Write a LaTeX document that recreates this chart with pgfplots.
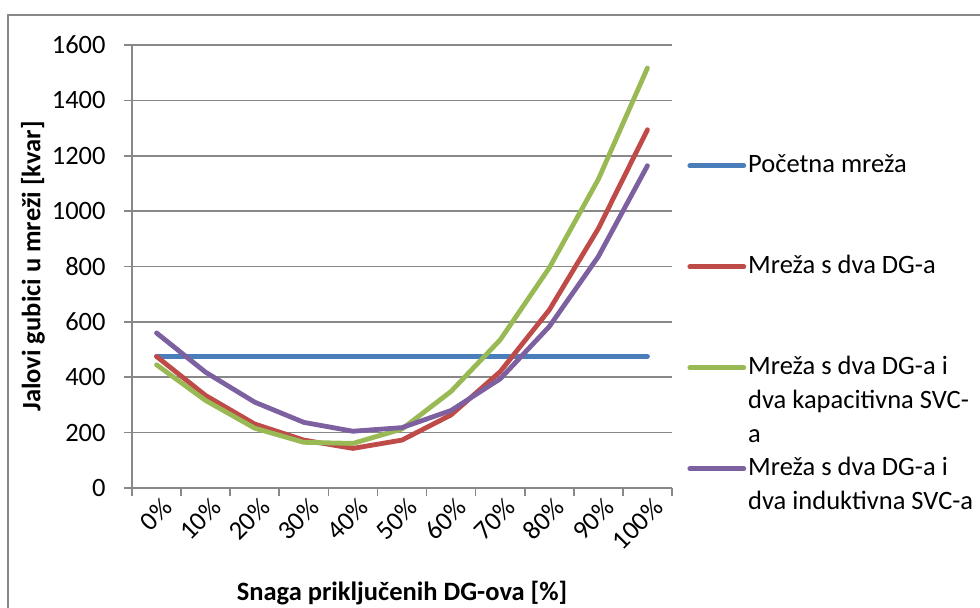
\documentclass[border=0pt]{standalone}
\usepackage{pgfplots}
\pgfplotsset{compat=1.18}
\usepackage{fontspec}
\setmainfont{Carlito}
\definecolor{cBlue}{HTML}{4A7EBB}
\definecolor{cRed}{HTML}{BE4B48}
\definecolor{cGreen}{HTML}{98B954}
\definecolor{cPurple}{HTML}{7D60A0}
\definecolor{cGrid}{HTML}{888888}
\newcommand{\oneline}[1]{\raisebox{0pt}[\ht\strutbox][\dp\strutbox]{\begin{tabular}[t]{@{}l@{}}#1\end{tabular}}}
\begin{document}
\fontsize{13.25}{17}\selectfont
\begin{tikzpicture}
\path[use as bounding box] (0,0) rectangle (490pt,304pt);
\draw[cGrid, line width=1pt] (4pt,-10pt) -- (4pt,296.5pt) -- (500pt,296.5pt);
\begin{axis}[
  at={(66pt,60pt)}, anchor=south west,
  scale only axis, width=270pt, height=221.5pt,
  xmin=0, xmax=11, ymin=0, ymax=1600,
  axis x line*=bottom, axis y line*=left,
  axis line style={cGrid, line width=0.8pt, -},
  ytick={0,200,...,1600},
  ymajorgrids, grid style={cGrid, line width=0.8pt},
  xtick={0.5,1.5,...,10.5},
  xticklabels={0\%,10\%,20\%,30\%,40\%,50\%,60\%,70\%,80\%,90\%,100\%},
  minor xtick={0,1,...,11},
  major x tick style={draw=none},
  minor x tick style={cGrid, line width=0.8pt},
  y tick style={cGrid, line width=0.8pt},
  tick align=outside, major tick length=4pt, minor tick length=4pt,
  /pgf/number format/assume math mode=true,
  /pgf/number format/1000 sep={},
  ticklabel style={font=\fontsize{13.25}{17}\selectfont},
  yticklabel style={inner sep=0pt, anchor=east, xshift=-9pt},
  xticklabel style={inner sep=0pt, xshift=5.5pt, yshift=-3.5pt, rotate=45, anchor=east},
  xlabel={\bfseries Snaga priključenih DG-ova [\%]},
  ylabel={\bfseries Jalovi gubici u mreži [kvar]},
  every axis x label/.style={at={(axis description cs:0.5,-0.237)}, anchor=center},
  every axis y label/.style={at={(axis description cs:-0.1833,0.5)}, rotate=90, anchor=center},
  legend image code/.code={\draw[#1] (0pt,0pt) -- (27pt,0pt);},
  legend style={at={(axis description cs:1,0.7664)}, anchor=north west, xshift=7.5pt,
    draw=none, fill=none, inner xsep=0pt, inner ysep=0pt,
    nodes={inner sep=0pt, text depth=, font=\fontsize{13.25}{17}\selectfont},
    cells={anchor=west}, row sep=33.5pt, column sep=1pt},
  every axis plot/.append style={line width=2.4pt, line join=round, line cap=round},
]
\addplot[cBlue] coordinates {(0.5,475)(1.5,475)(2.5,475)(3.5,475)(4.5,475)(5.5,475)(6.5,475)(7.5,475)(8.5,475)(9.5,475)(10.5,475)};
\addlegendentry{\oneline{Početna mreža}}
\addplot[cRed] coordinates {(0.5,475)(1.5,334)(2.5,231)(3.5,173)(4.5,143)(5.5,173)(6.5,264)(7.5,420)(8.5,643)(9.5,937)(10.5,1294)};
\addlegendentry{\oneline{Mreža s dva DG-a}}
\addplot[cGreen] coordinates {(0.5,445)(1.5,316)(2.5,216)(3.5,165)(4.5,161)(5.5,213)(6.5,349)(7.5,535)(8.5,795)(9.5,1115)(10.5,1517)};
\addlegendentry{\oneline{Mreža s dva DG-a i\\dva kapacitivna SVC-\\a}}
\addplot[cPurple] coordinates {(0.5,560)(1.5,418)(2.5,310)(3.5,237)(4.5,205)(5.5,218)(6.5,280)(7.5,394)(8.5,583)(9.5,836)(10.5,1164)};
\addlegendentry{\oneline{Mreža s dva DG-a i\\dva induktivna SVC-a}}
\end{axis}
\end{tikzpicture}
\end{document}
